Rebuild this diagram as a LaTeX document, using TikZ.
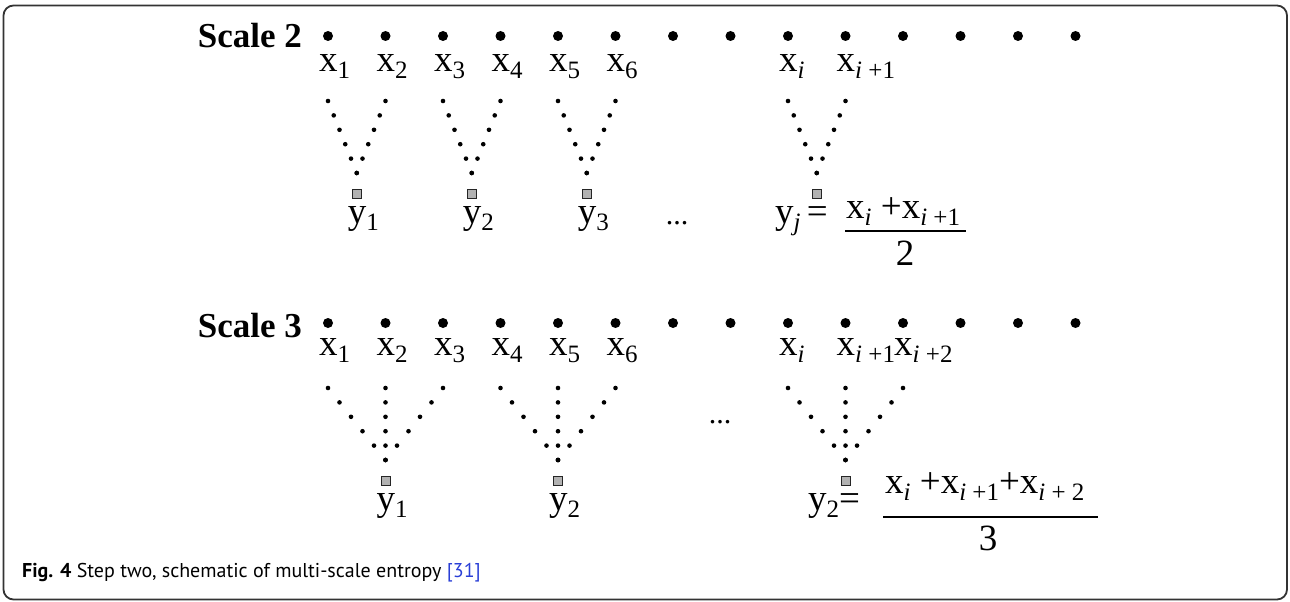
\documentclass[tikz,border=0pt]{standalone}
\usepackage{fontspec}
\setmainfont{Liberation Serif}
\newfontfamily\capfont{PT Sans}
\usepackage{xcolor}
\usetikzlibrary{calc}
\definecolor{citeblue}{HTML}{2A3FD6}
\newcommand{\sbs}[1]{\raisebox{-7pt}{\fontsize{25}{25}\selectfont #1}}

\begin{document}
\begin{tikzpicture}[x=1pt, y=-1pt,
    lab/.style={font=\fontsize{37}{40}\selectfont, inner sep=0pt, anchor=base west},
    scl/.style={font=\fontsize{35}{40}\selectfont\bfseries, inner sep=0pt, anchor=base east},
    bigdot/.style={circle, fill=black, inner sep=0pt, minimum size=10pt},
    ysq/.style={draw=black!85, fill=black!30, line width=1pt, minimum size=9pt, inner sep=0pt},
    fracbar/.style={line width=1.3pt},
    framel/.style={draw=black!80, line width=1.8pt, rounded corners=10pt}
]
\useasboundingbox (0,0) rectangle (1290,602);
\draw[framel] (3.5,5.5) rectangle (1287,599.5);

% dotted branch from a sample down to its coarse point
\def\vbranch#1#2{\foreach \k in {0,...,5}
    \fill ($([yshift=-65pt]#1)!\k/5!([yshift=21pt]#2)$) circle (2.3pt);}

% ================= sample rows =================
\foreach \i in {1,...,14} {
    \node[bigdot] (p\i) at ({328+57.5*(\i-1)},36) {};
    \node[bigdot] (q\i) at ({328+57.5*(\i-1)},323) {};
}
\node[scl] (s2) at (302,48) {Scale 2};
\node[scl] (s3) at (302,337) {Scale 3};

% ================= scale 2 =================
\foreach \i in {1,...,6}
    \node[lab, xshift=-9pt] (a\i) at (p\i |- 0,71) {x\sbs{\i}};
\node[lab, xshift=-9pt] (a9) at (p9 |- 0,71) {x\sbs{\textit{i}}};
\node[lab, xshift=-9pt] (a10) at (p10 |- 0,71) {x\sbs{\textit{i} +1}};

\node[ysq] (u1) at (356.75,194) {};
\node[ysq] (u2) at (471.75,194) {};
\node[ysq] (u3) at (586.75,194) {};
\node[ysq] (u4) at (816.75,194) {};
\vbranch{p1}{u1}\vbranch{p2}{u1}
\vbranch{p3}{u2}\vbranch{p4}{u2}
\vbranch{p5}{u3}\vbranch{p6}{u3}
\vbranch{p9}{u4}\vbranch{p10}{u4}

\node[lab, xshift=-9pt] (c1) at (u1 |- 0,223) {y\sbs{1}};
\node[lab, xshift=-9pt] (c2) at (u2 |- 0,223) {y\sbs{2}};
\node[lab, xshift=-9pt] (c3) at (u3 |- 0,223) {y\sbs{3}};
\node[lab, anchor=base, font=\fontsize{30}{30}\selectfont] (e2) at (677,224) {...};
\node[lab] (c4) at (775,223) {y\sbs{\textit{j}}\,=};
\node[lab] (n2) at (846,218) {x\sbs{\textit{i}} +x\sbs{\textit{i} +1}};
\draw[fracbar] (845,231) -- (966,231);
\node[lab, anchor=base] (d2) at (905,265) {2};

% ================= scale 3 =================
\foreach \i in {1,...,6}
    \node[lab, xshift=-9pt] (b\i) at (q\i |- 0,355) {x\sbs{\i}};
\node[lab, xshift=-9pt] (b9) at (q9 |- 0,355) {x\sbs{\textit{i}}};
\node[lab, xshift=-9pt] (b10) at (q10 |- 0,355) {x\sbs{\textit{i} +1}};
\node[lab, xshift=-9pt] (b11) at (q11 |- 0,355) {x\sbs{\textit{i} +2}};

\node[ysq] (v1) at (385.5,481) {};
\node[ysq] (v2) at (558,481) {};
\node[ysq] (v3) at (845.5,481) {};
\vbranch{q1}{v1}\vbranch{q2}{v1}\vbranch{q3}{v1}
\vbranch{q4}{v2}\vbranch{q5}{v2}\vbranch{q6}{v2}
\vbranch{q9}{v3}\vbranch{q10}{v3}\vbranch{q11}{v3}

\node[lab, xshift=-9pt] (f1) at (v1 |- 0,510) {y\sbs{1}};
\node[lab, xshift=-9pt] (f2) at (v2 |- 0,510) {y\sbs{2}};
\node[lab, anchor=base, font=\fontsize{30}{30}\selectfont] (e3) at (720,423) {...};
\node[lab] (f3) at (808,510) {y\sbs{2}=};
\node[lab] (n3) at (885,493) {x\sbs{\textit{i}} +x\sbs{\textit{i} +1}+x\sbs{\textit{i} + 2}};
\draw[fracbar] (883,517) -- (1098,517);
\node[lab, anchor=base] (d3) at (988,550) {3};

% caption
\node[inner sep=0pt, anchor=base west, font=\capfont\fontsize{20}{24}\selectfont] (cap) at (22,577)
    {\textbf{Fig. 4} Step two, schematic of multi-scale entropy \textcolor{citeblue}{[31]}};
\end{tikzpicture}
\end{document}
